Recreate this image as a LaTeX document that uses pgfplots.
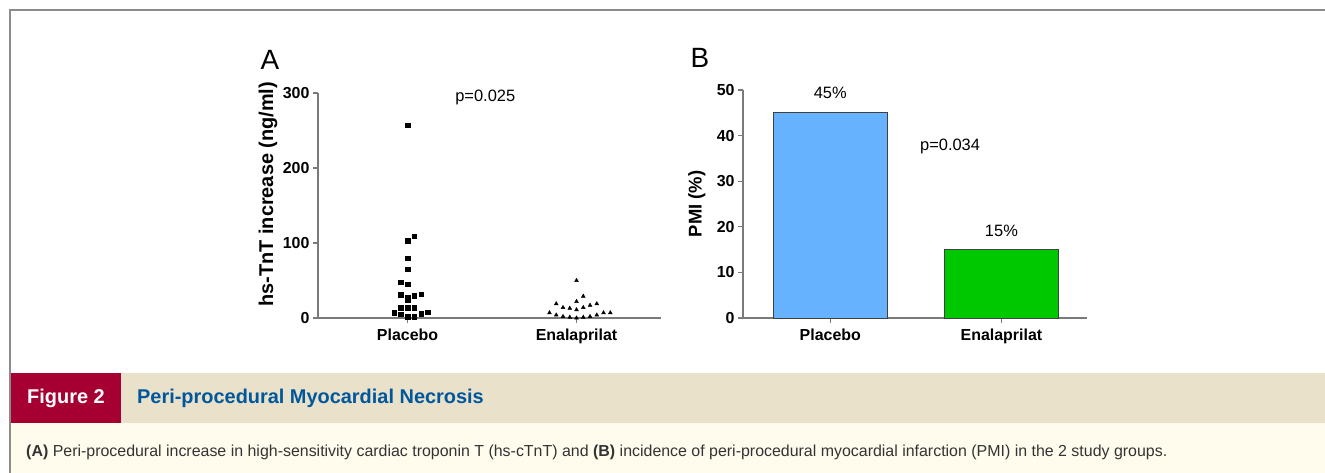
\documentclass[border=0pt]{standalone}
\usepackage{fontspec}
\setmainfont{Liberation Sans}
\usepackage{pgfplots}
\pgfplotsset{compat=1.18}

\definecolor{framegray}{HTML}{8C8C8C}
\definecolor{bandbeige}{HTML}{E9E1CA}
\definecolor{figred}{HTML}{A60033}
\definecolor{capbg}{HTML}{FFFCEE}
\definecolor{titleblue}{HTML}{00579C}
\definecolor{capgray}{HTML}{333333}
\definecolor{axgray}{HTML}{7A7A7A}
\definecolor{barblue}{HTML}{66B2FF}
\definecolor{bargreen}{HTML}{00C800}
\definecolor{baredge}{HTML}{404040}

\newcommand\fs[1]{\fontsize{#1}{#1}\selectfont}

\pgfplotsset{
  panel/.style={
    scale only axis, anchor=south west, clip=false,
    axis x line*=bottom, axis y line*=left,
    axis line style={axgray, line width=1.4bp, -},
    tick style={axgray, line width=1.2bp},
    tick align=outside, major tick length=5bp,
    xtick={1,2}, xticklabels={Placebo,Enalaprilat},
    /pgf/number format/assume math mode=true,
    tick label style={font=\bfseries\fs{16}},
    x tick label style={yshift=-2bp},
    ylabel style={font=\bfseries\fs{20}, anchor=center},
  }
}

\begin{document}
\begin{tikzpicture}
\path[use as bounding box] (0,0) rectangle (1325bp,-473bp);
\fill[white] (0,0) rectangle (1325bp,-473bp);
\fill[bandbeige] (10bp,-373bp) rectangle (1325bp,-423bp);
\fill[figred] (10bp,-373bp) rectangle (121bp,-423bp);
\fill[capbg] (10bp,-423bp) rectangle (1325bp,-473bp);
\draw[framegray, line width=2bp] (10bp,-473bp) -- (10bp,-10bp) -- (1325bp,-10bp);

\node[anchor=west, inner sep=0, text=white, font=\bfseries\fs{20}] at (27bp,-398bp) {Figure 2};
\node[anchor=west, inner sep=0, text=titleblue, font=\bfseries\fs{20}] at (137bp,-398bp) {Peri-procedural Myocardial Necrosis};
\node[anchor=base west, inner sep=0, text=capgray, font=\fs{16}] at (26bp,-456bp)
  {\textbf{(A)} Peri-procedural increase in high-sensitivity cardiac troponin T (hs-cTnT) and \textbf{(B)} incidence of peri-procedural myocardial infarction (PMI) in the 2 study groups.};

\node[font=\fs{28}, inner sep=0] at (270bp,-60bp) {A};
\node[font=\fs{28}, inner sep=0] at (700bp,-58bp) {B};

% Panel A: hs-TnT increase
\begin{axis}[panel,
  at={(318bp,-318bp)}, width=343bp, height=225bp,
  xmin=0.47, xmax=2.5, ymin=0, ymax=300,
  ytick={0,100,200,300},
  ylabel={hs-TnT increase (ng/ml)},
  ylabel style={at={(axis description cs:-0.146,0.55)}},
]
\addplot[only marks, mark=square*, mark size=2.2bp, black] coordinates {
  (1.00,257) (1.04,109) (1.00,103) (1.00,80) (1.00,65)
  (0.96,48) (1.00,45) (0.96,31) (1.00,28) (1.00,24)
  (1.04,30) (1.08,32) (0.96,14) (1.00,14) (1.04,14)
  (0.92,7) (0.96,5) (1.00,2) (1.04,2) (1.08,6) (1.12,8)
};
\addplot[only marks, mark=triangle*, mark size=2.2bp, black] coordinates {
  (2.00,50) (2.04,29)
  (1.88,19) (2.00,22) (2.08,17) (2.12,19)
  (1.92,14) (1.96,13) (2.00,11) (2.04,14)
  (1.84,7) (1.88,4) (1.92,2) (1.96,1) (2.00,0) (2.04,1)
  (2.08,2) (2.12,4) (2.16,7) (2.20,7)
};
\node[font=\fs{16.5}] at (axis cs:1.46,294) {p=0.025};
\end{axis}

% Panel B: PMI incidence
\begin{axis}[panel,
  at={(743bp,-318bp)}, width=344bp, height=228bp,
  xmin=0.49, xmax=2.5, ymin=0, ymax=50,
  ytick={0,10,20,30,40,50},
  ylabel={PMI (\%)},
  ylabel style={at={(axis description cs:-0.134,0.5)}, font=\bfseries\fs{18.5}},
]
\addplot[ybar, bar width=0.667, bar shift=0pt, fill=barblue, draw=baredge, line width=1bp]
  coordinates {(1,45)};
\addplot[ybar, bar width=0.667, bar shift=0pt, fill=bargreen, draw=baredge, line width=1bp]
  coordinates {(2,15)};
\node[font=\fs{16.5}] at (axis cs:1,49.3) {45\%};
\node[font=\fs{16.5}] at (axis cs:2,19.1) {15\%};
\node[font=\fs{16.5}] at (axis cs:1.70,37.7) {p=0.034};
\end{axis}
\end{tikzpicture}
\end{document}
